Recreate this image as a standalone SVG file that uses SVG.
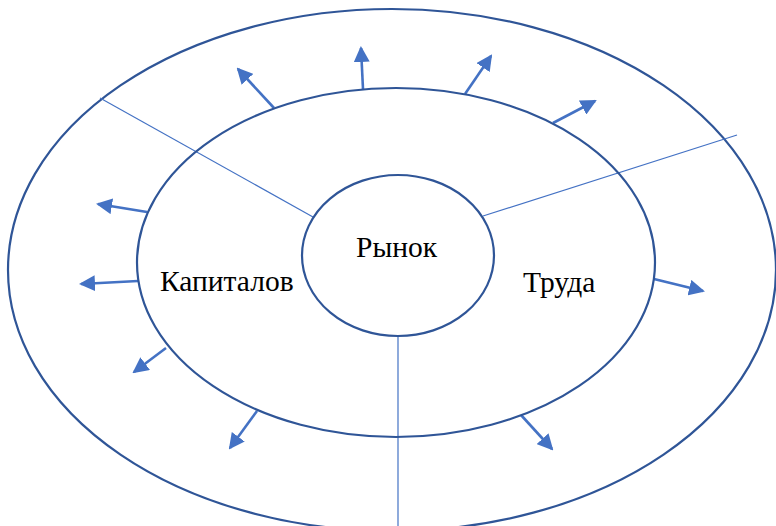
<svg xmlns="http://www.w3.org/2000/svg" width="776" height="526" viewBox="0 0 776 526">
<defs>
<style>
.ell{fill:none;stroke:#2F5597;stroke-width:2.2}
.ln{stroke:#4472C4;stroke-width:1.2;fill:none}
.ar{stroke:#4472C4;stroke-width:2.6;fill:none;marker-end:url(#ah)}
.t{font-family:"Liberation Serif","Times New Roman",serif;font-size:29.5px;fill:#000}
</style>
<marker id="ah" markerUnits="userSpaceOnUse" viewBox="0 0 16 16" refX="14" refY="8" markerWidth="16" markerHeight="16" orient="auto">
<path d="M0,0 L16,8 L0,16 Z" fill="#4472C4"/>
</marker>
</defs>
<rect width="776" height="526" fill="#fff"/>
<g id="outer"><ellipse class="ell" cx="392" cy="270" rx="384" ry="261"/></g>
<g id="connectors">
<line class="ln" x1="100" y1="98" x2="313" y2="217"/>
<line class="ln" x1="483" y1="216" x2="737" y2="135"/>
<line class="ln" x1="398" y1="336" x2="398" y2="526"/>
<line class="ar" x1="274" y1="108" x2="238" y2="69"/>
<line class="ar" x1="363" y1="89" x2="361" y2="48"/>
<line class="ar" x1="465" y1="94" x2="491" y2="56"/>
<line class="ar" x1="553" y1="123" x2="595" y2="101"/>
<line class="ar" x1="147" y1="212" x2="98" y2="204"/>
<line class="ar" x1="138" y1="281" x2="81" y2="284"/>
<line class="ar" x1="166" y1="348" x2="134" y2="372"/>
<line class="ar" x1="257" y1="411" x2="230" y2="448"/>
<line class="ar" x1="521" y1="415" x2="552" y2="449"/>
<line class="ar" x1="654" y1="279" x2="703" y2="291"/>
</g>
<g id="middle"><ellipse class="ell" cx="396" cy="262.5" rx="259" ry="174.5"/></g>
<g id="inner"><ellipse class="ell" cx="398" cy="255.5" rx="96" ry="80.5"/></g>
<g id="labels">
<text class="t" x="356" y="257">Рынок</text>
<text class="t" x="160" y="291">Капиталов</text>
<text class="t" x="523" y="292">Труда</text>
</g>
</svg>
